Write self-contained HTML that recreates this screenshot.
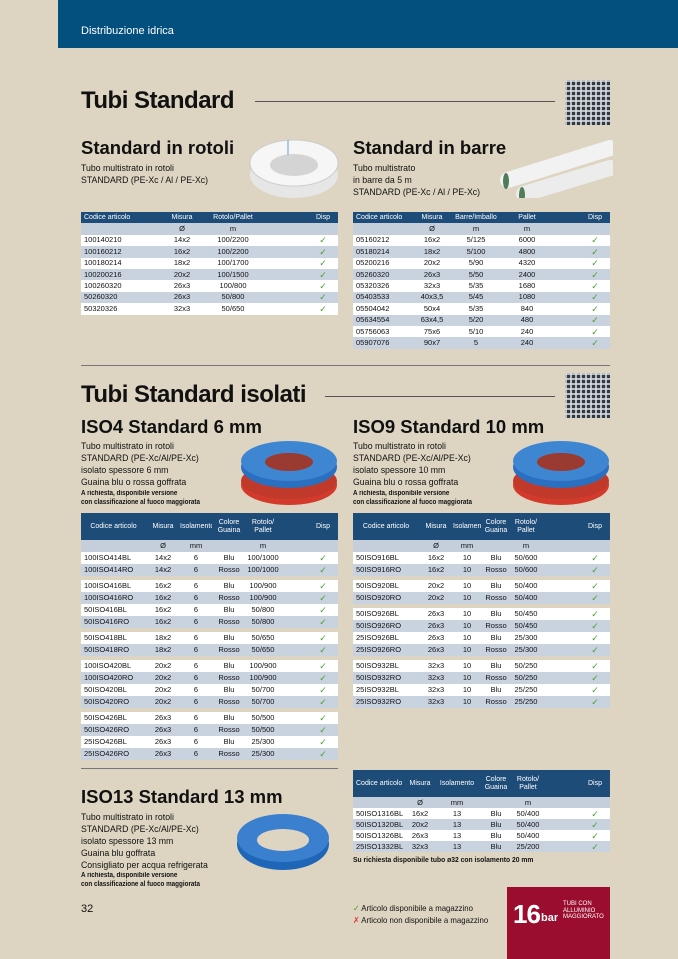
<!DOCTYPE html>
<html><head><meta charset="utf-8"><style>
*{margin:0;padding:0;box-sizing:border-box}
body{width:678px;height:959px;background:#ddd5c2;position:relative;overflow:hidden;font-family:"Liberation Sans",sans-serif;color:#111}
.a{position:absolute}
.hdr{left:58px;top:0;width:620px;height:48px;background:#03507f;color:#fff;font-size:11px;padding:25px 0 0 23px}
h1{position:absolute;font-size:24px;font-weight:bold;letter-spacing:-0.5px}
h2{position:absolute;font-size:18.5px;font-weight:bold}
.line{position:absolute;height:1px;background:#555}
.txt{position:absolute;font-size:9.5px;line-height:12px;transform:scaleX(.92);transform-origin:left}
.sm{position:absolute;font-size:7px;line-height:9px;font-weight:bold;transform:scaleX(.9);transform-origin:left}
table{position:absolute;border-collapse:collapse;table-layout:fixed;font-size:7.5px;width:257px}
td{height:11.4px;padding:0;text-align:center;white-space:nowrap;overflow:hidden;line-height:10px}
table.iso td{height:12px}
table.i13 td{height:11px}
td:first-child{text-align:left;padding-left:3px}
tr.h td{background:#1e4c78;color:#fff;font-size:7px;line-height:8px}
tr.s td{background:#c5cfdc}
tr.w td{background:#fff}
tr.b td{background:#c9d3e0}
table tr.g td{height:4px;background:transparent}
.c{color:#4a9d2f;font-size:9px}
.qr{position:absolute;width:45px;height:45px;background-color:#333;
background-image:repeating-linear-gradient(90deg,rgba(220,220,220,.8) 0 2px,transparent 2px 5px),repeating-linear-gradient(0deg,#2f3a44 0 3px,#b8bec4 3px 5px)}
</style></head><body>
<div class="a hdr">Distribuzione idrica</div>

<h1 style="left:81px;top:87px">Tubi Standard</h1>
<div class="line" style="left:255px;top:101px;width:300px"></div>
<div class="qr" style="left:565px;top:80px"></div>

<h2 style="left:81px;top:137px">Standard in rotoli</h2>
<div class="txt" style="left:81px;top:163px">Tubo multistrato in rotoli<br>STANDARD (PE-Xc / Al / PE-Xc)</div>
<svg class="a" style="left:248px;top:135px" width="92" height="65"><ellipse cx="46" cy="40" rx="44" ry="23" fill="#e6e6e6"/><ellipse cx="46" cy="28" rx="44" ry="23" fill="#f6f6f6" stroke="#ccc"/><ellipse cx="46" cy="30" rx="24" ry="11" fill="#d4d4d4"/><line x1="40" y1="5" x2="40" y2="20" stroke="#5aa6d8"/></svg>

<h2 style="left:353px;top:137px">Standard in barre</h2>
<div class="txt" style="left:353px;top:163px">Tubo multistrato<br>in barre da 5 m<br>STANDARD (PE-Xc / Al / PE-Xc)</div>
<svg class="a" style="left:498px;top:140px" width="115" height="58"><line x1="10" y1="40" x2="112" y2="8" stroke="#f2f2f2" stroke-width="16" stroke-linecap="round"/><line x1="26" y1="54" x2="112" y2="28" stroke="#ececec" stroke-width="16" stroke-linecap="round"/><ellipse cx="8" cy="41" rx="3" ry="8" fill="#4f7d5a"/><ellipse cx="24" cy="55" rx="3" ry="8" fill="#4f7d5a"/></svg>

<table style="left:81px;top:212px"><col style="width:71px"><col style="width:60px"><col style="width:42px"><col style="width:54px"><col style="width:30px">
<tr class="h"><td>Codice articolo</td><td>Misura</td><td>Rotolo/Pallet</td><td></td><td>Disp</td></tr>
<tr class="s"><td></td><td>Ø</td><td>m</td><td></td><td></td></tr>
<tr class="w"><td>100140210</td><td>14x2</td><td>100/2200</td><td></td><td class="c">✓</td></tr>
<tr class="b"><td>100160212</td><td>16x2</td><td>100/2200</td><td></td><td class="c">✓</td></tr>
<tr class="w"><td>100180214</td><td>18x2</td><td>100/1700</td><td></td><td class="c">✓</td></tr>
<tr class="b"><td>100200216</td><td>20x2</td><td>100/1500</td><td></td><td class="c">✓</td></tr>
<tr class="w"><td>100260320</td><td>26x3</td><td>100/800</td><td></td><td class="c">✓</td></tr>
<tr class="b"><td>50260320</td><td>26x3</td><td>50/800</td><td></td><td class="c">✓</td></tr>
<tr class="w"><td>50320326</td><td>32x3</td><td>50/650</td><td></td><td class="c">✓</td></tr>
</table>

<table style="left:353px;top:212px"><col style="width:60px"><col style="width:38px"><col style="width:50px"><col style="width:52px"><col style="width:27px"><col style="width:30px">
<tr class="h"><td>Codice articolo</td><td>Misura</td><td>Barre/Imballo</td><td>Pallet</td><td></td><td>Disp</td></tr>
<tr class="s"><td></td><td>Ø</td><td>m</td><td>m</td><td></td><td></td></tr>
<tr class="w"><td>05160212</td><td>16x2</td><td>5/125</td><td>6000</td><td></td><td class="c">✓</td></tr>
<tr class="b"><td>05180214</td><td>18x2</td><td>5/100</td><td>4800</td><td></td><td class="c">✓</td></tr>
<tr class="w"><td>05200216</td><td>20x2</td><td>5/90</td><td>4320</td><td></td><td class="c">✓</td></tr>
<tr class="b"><td>05260320</td><td>26x3</td><td>5/50</td><td>2400</td><td></td><td class="c">✓</td></tr>
<tr class="w"><td>05320326</td><td>32x3</td><td>5/35</td><td>1680</td><td></td><td class="c">✓</td></tr>
<tr class="b"><td>05403533</td><td>40x3,5</td><td>5/45</td><td>1080</td><td></td><td class="c">✓</td></tr>
<tr class="w"><td>05504042</td><td>50x4</td><td>5/35</td><td>840</td><td></td><td class="c">✓</td></tr>
<tr class="b"><td>05634554</td><td>63x4,5</td><td>5/20</td><td>480</td><td></td><td class="c">✓</td></tr>
<tr class="w"><td>05756063</td><td>75x6</td><td>5/10</td><td>240</td><td></td><td class="c">✓</td></tr>
<tr class="b"><td>05907076</td><td>90x7</td><td>5</td><td>240</td><td></td><td class="c">✓</td></tr>
</table>

<div class="line" style="left:81px;top:365px;width:529px;background:#777"></div>
<h1 style="left:81px;top:381px">Tubi Standard isolati</h1>
<div class="line" style="left:325px;top:396px;width:230px"></div>
<div class="qr" style="left:565px;top:373px"></div>

<h2 style="left:81px;top:416px">ISO4 Standard 6 mm</h2>
<div class="txt" style="left:81px;top:441px">Tubo multistrato in rotoli<br>STANDARD (PE-Xc/Al/PE-Xc)<br>isolato spessore 6 mm<br>Guaina blu o rossa goffrata</div>
<div class="sm" style="left:81px;top:489px">A richiesta, disponibile versione<br>con classificazione al fuoco maggiorata</div>
<svg class="a" style="left:238px;top:437px" width="102" height="72"><ellipse cx="51" cy="48" rx="48" ry="20" fill="#d33a2c"/><ellipse cx="51" cy="44" rx="48" ry="18" fill="#c0392b"/><ellipse cx="51" cy="30" rx="48" ry="21" fill="#2a6fc0"/><ellipse cx="51" cy="24" rx="48" ry="20" fill="#3f86d2"/><ellipse cx="51" cy="25" rx="24" ry="9" fill="#9b3a30"/></svg>

<h2 style="left:353px;top:416px">ISO9 Standard 10 mm</h2>
<div class="txt" style="left:353px;top:441px">Tubo multistrato in rotoli<br>STANDARD (PE-Xc/Al/PE-Xc)<br>isolato spessore 10 mm<br>Guaina blu o rossa goffrata</div>
<div class="sm" style="left:353px;top:489px">A richiesta, disponibile versione<br>con classificazione al fuoco maggiorata</div>
<svg class="a" style="left:510px;top:437px" width="102" height="72"><ellipse cx="51" cy="48" rx="48" ry="20" fill="#d33a2c"/><ellipse cx="51" cy="44" rx="48" ry="18" fill="#c0392b"/><ellipse cx="51" cy="30" rx="48" ry="21" fill="#2a6fc0"/><ellipse cx="51" cy="24" rx="48" ry="20" fill="#3f86d2"/><ellipse cx="51" cy="25" rx="24" ry="9" fill="#9b3a30"/></svg>

<table class="iso" style="left:81px;top:513px"><col style="width:65px"><col style="width:34px"><col style="width:32px"><col style="width:34px"><col style="width:34px"><col style="width:28px"><col style="width:30px">
<tr class="h"><td style="height:27px;text-align:center;padding:0">Codice articolo</td><td>Misura</td><td>Isolamento</td><td>Colore<br>Guaina</td><td>Rotolo/<br>Pallet</td><td></td><td>Disp</td></tr>
<tr class="s"><td></td><td>Ø</td><td>mm</td><td></td><td>m</td><td></td><td></td></tr>
<tr class="w"><td>100ISO414BL</td><td>14x2</td><td>6</td><td>Blu</td><td>100/1000</td><td></td><td class="c">✓</td></tr>
<tr class="b"><td>100ISO414RO</td><td>14x2</td><td>6</td><td>Rosso</td><td>100/1000</td><td></td><td class="c">✓</td></tr>
<tr class="g"><td colspan="7"></td></tr>
<tr class="w"><td>100ISO416BL</td><td>16x2</td><td>6</td><td>Blu</td><td>100/900</td><td></td><td class="c">✓</td></tr>
<tr class="b"><td>100ISO416RO</td><td>16x2</td><td>6</td><td>Rosso</td><td>100/900</td><td></td><td class="c">✓</td></tr>
<tr class="w"><td>50ISO416BL</td><td>16x2</td><td>6</td><td>Blu</td><td>50/800</td><td></td><td class="c">✓</td></tr>
<tr class="b"><td>50ISO416RO</td><td>16x2</td><td>6</td><td>Rosso</td><td>50/800</td><td></td><td class="c">✓</td></tr>
<tr class="g"><td colspan="7"></td></tr>
<tr class="w"><td>50ISO418BL</td><td>18x2</td><td>6</td><td>Blu</td><td>50/650</td><td></td><td class="c">✓</td></tr>
<tr class="b"><td>50ISO418RO</td><td>18x2</td><td>6</td><td>Rosso</td><td>50/650</td><td></td><td class="c">✓</td></tr>
<tr class="g"><td colspan="7"></td></tr>
<tr class="w"><td>100ISO420BL</td><td>20x2</td><td>6</td><td>Blu</td><td>100/900</td><td></td><td class="c">✓</td></tr>
<tr class="b"><td>100ISO420RO</td><td>20x2</td><td>6</td><td>Rosso</td><td>100/900</td><td></td><td class="c">✓</td></tr>
<tr class="w"><td>50ISO420BL</td><td>20x2</td><td>6</td><td>Blu</td><td>50/700</td><td></td><td class="c">✓</td></tr>
<tr class="b"><td>50ISO420RO</td><td>20x2</td><td>6</td><td>Rosso</td><td>50/700</td><td></td><td class="c">✓</td></tr>
<tr class="g"><td colspan="7"></td></tr>
<tr class="w"><td>50ISO426BL</td><td>26x3</td><td>6</td><td>Blu</td><td>50/500</td><td></td><td class="c">✓</td></tr>
<tr class="b"><td>50ISO426RO</td><td>26x3</td><td>6</td><td>Rosso</td><td>50/500</td><td></td><td class="c">✓</td></tr>
<tr class="w"><td>25ISO426BL</td><td>26x3</td><td>6</td><td>Blu</td><td>25/300</td><td></td><td class="c">✓</td></tr>
<tr class="b"><td>25ISO426RO</td><td>26x3</td><td>6</td><td>Rosso</td><td>25/300</td><td></td><td class="c">✓</td></tr>
</table>

<table class="iso" style="left:353px;top:513px"><col style="width:66px"><col style="width:34px"><col style="width:28px"><col style="width:30px"><col style="width:30px"><col style="width:39px"><col style="width:30px">
<tr class="h"><td style="height:27px;text-align:center;padding:0">Codice articolo</td><td>Misura</td><td>Isolamento</td><td>Colore<br>Guaina</td><td>Rotolo/<br>Pallet</td><td></td><td>Disp</td></tr>
<tr class="s"><td></td><td>Ø</td><td>mm</td><td></td><td>m</td><td></td><td></td></tr>
<tr class="w"><td>50ISO916BL</td><td>16x2</td><td>10</td><td>Blu</td><td>50/600</td><td></td><td class="c">✓</td></tr>
<tr class="b"><td>50ISO916RO</td><td>16x2</td><td>10</td><td>Rosso</td><td>50/600</td><td></td><td class="c">✓</td></tr>
<tr class="g"><td colspan="7"></td></tr>
<tr class="w"><td>50ISO920BL</td><td>20x2</td><td>10</td><td>Blu</td><td>50/400</td><td></td><td class="c">✓</td></tr>
<tr class="b"><td>50ISO920RO</td><td>20x2</td><td>10</td><td>Rosso</td><td>50/400</td><td></td><td class="c">✓</td></tr>
<tr class="g"><td colspan="7"></td></tr>
<tr class="w"><td>50ISO926BL</td><td>26x3</td><td>10</td><td>Blu</td><td>50/450</td><td></td><td class="c">✓</td></tr>
<tr class="b"><td>50ISO926RO</td><td>26x3</td><td>10</td><td>Rosso</td><td>50/450</td><td></td><td class="c">✓</td></tr>
<tr class="w"><td>25ISO926BL</td><td>26x3</td><td>10</td><td>Blu</td><td>25/300</td><td></td><td class="c">✓</td></tr>
<tr class="b"><td>25ISO926RO</td><td>26x3</td><td>10</td><td>Rosso</td><td>25/300</td><td></td><td class="c">✓</td></tr>
<tr class="g"><td colspan="7"></td></tr>
<tr class="w"><td>50ISO932BL</td><td>32x3</td><td>10</td><td>Blu</td><td>50/250</td><td></td><td class="c">✓</td></tr>
<tr class="b"><td>50ISO932RO</td><td>32x3</td><td>10</td><td>Rosso</td><td>50/250</td><td></td><td class="c">✓</td></tr>
<tr class="w"><td>25ISO932BL</td><td>32x3</td><td>10</td><td>Blu</td><td>25/250</td><td></td><td class="c">✓</td></tr>
<tr class="b"><td>25ISO932RO</td><td>32x3</td><td>10</td><td>Rosso</td><td>25/250</td><td></td><td class="c">✓</td></tr>
</table>

<div class="line" style="left:81px;top:768px;width:257px;background:#777"></div>
<h2 style="left:81px;top:786px">ISO13 Standard 13 mm</h2>
<div class="txt" style="left:81px;top:812px">Tubo multistrato in rotoli<br>STANDARD (PE-Xc/Al/PE-Xc)<br>isolato spessore 13 mm<br>Guaina blu goffrata<br>Consigliato per acqua refrigerata</div>
<div class="sm" style="left:81px;top:871px">A richiesta, disponibile versione<br>con classificazione al fuoco maggiorata</div>
<svg class="a" style="left:234px;top:810px" width="98" height="62"><ellipse cx="49" cy="34" rx="46" ry="26" fill="#1f66b8"/><ellipse cx="49" cy="28" rx="46" ry="24" fill="#3a80cf"/><ellipse cx="49" cy="30" rx="26" ry="11" fill="#ddd5c2"/></svg>

<table class="i13" style="left:353px;top:770px"><col style="width:50px"><col style="width:34px"><col style="width:40px"><col style="width:38px"><col style="width:26px"><col style="width:39px"><col style="width:30px">
<tr class="h"><td style="height:27px;padding-left:3px">Codice articolo</td><td>Misura</td><td>Isolamento</td><td>Colore<br>Guaina</td><td>Rotolo/<br>Pallet</td><td></td><td>Disp</td></tr>
<tr class="s"><td></td><td>Ø</td><td>mm</td><td></td><td>m</td><td></td><td></td></tr>
<tr class="w"><td>50ISO1316BL</td><td>16x2</td><td>13</td><td>Blu</td><td>50/400</td><td></td><td class="c">✓</td></tr>
<tr class="b"><td>50ISO1320BL</td><td>20x2</td><td>13</td><td>Blu</td><td>50/400</td><td></td><td class="c">✓</td></tr>
<tr class="w"><td>50ISO1326BL</td><td>26x3</td><td>13</td><td>Blu</td><td>50/400</td><td></td><td class="c">✓</td></tr>
<tr class="b"><td>25ISO1332BL</td><td>32x3</td><td>13</td><td>Blu</td><td>25/200</td><td></td><td class="c">✓</td></tr>
</table>
<div class="sm" style="left:353px;top:855px;font-size:7.5px">Su richiesta disponibile tubo ø32 con isolamento 20 mm</div>

<div class="a" style="left:81px;top:903px;font-size:11px">32</div>
<div class="txt" style="left:353px;top:902px;font-size:8.5px;line-height:12px"><span style="color:#4a9d2f">✓</span> Articolo disponibile a magazzino<br><span style="color:#d33">✗</span> Articolo non disponibile a magazzino</div>
<div class="a" style="left:507px;top:887px;width:103px;height:72px;background:#9a0d2e;color:#fff">
<div class="a" style="left:6px;top:12px;font-size:26px;font-weight:bold;letter-spacing:-1px">16</div>
<div class="a" style="left:34px;top:25px;font-size:11px;font-weight:bold">bar</div>
<div class="a" style="left:56px;top:14px;font-size:6px;line-height:6.5px">TUBI CON<br>ALLUMINIO<br>MAGGIORATO</div>
</div>
</body></html>
